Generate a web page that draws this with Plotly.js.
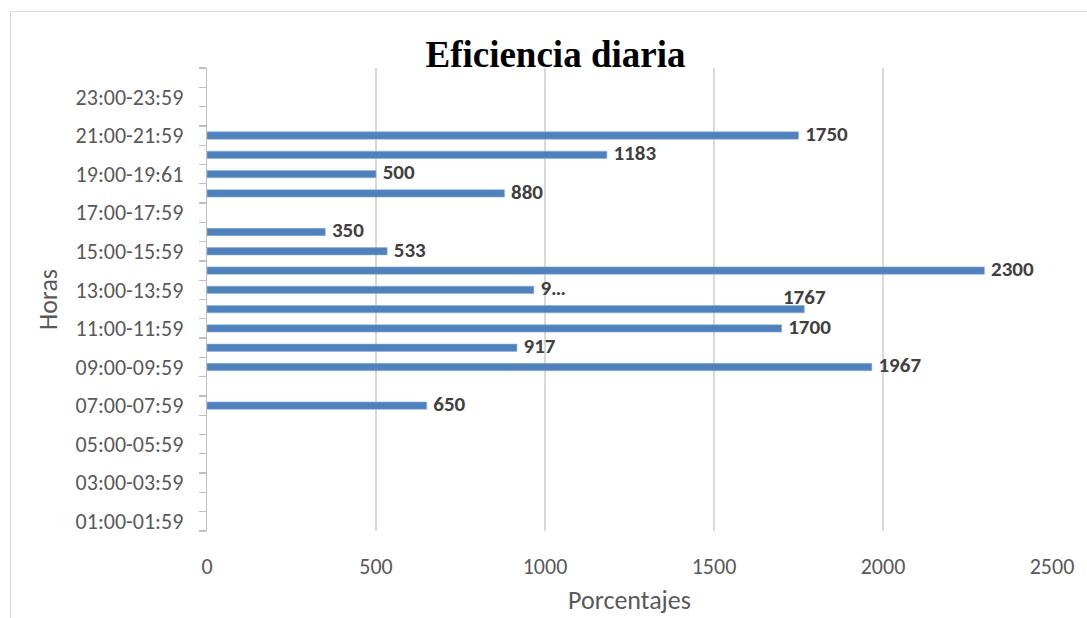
<!DOCTYPE html>
<html>
<head>
<meta charset="utf-8">
<script src="https://cdn.plot.ly/plotly-3.0.1.min.js"></script>
<style>
html,body{margin:0;padding:0;background:#fff;overflow:hidden;}
#frame{position:absolute;left:10px;top:11px;width:1100px;height:640px;border-left:1px solid #d9d9d9;border-top:1px solid #d9d9d9;box-sizing:border-box;}
#chart{position:absolute;left:0;top:0;width:1087px;height:618px;}
</style>
</head>
<body>
<div id="frame"></div>
<div id="chart"></div>
<script>
// Categories (bottom to top)
const horas = [
  "01:00-01:59","02:00-02:59","03:00-03:59","04:00-04:59","05:00-05:59","06:00-06:59",
  "07:00-07:59","08:00-08:59","09:00-09:59","10:00-10:59","11:00-11:59","12:00-12:59",
  "13:00-13:59","14:00-14:59","15:00-15:59","16:00-16:59","17:00-17:59","18:00-18:59",
  "19:00-19:61","20:00-20:59","21:00-21:59","22:00-22:59","23:00-23:59","00:00-00:59"
];
// Shown tick labels (every other category)
const tickLabels = [
  "01:00-01:59","","03:00-03:59","","05:00-05:59","",
  "07:00-07:59","","09:00-09:59","","11:00-11:59","",
  "13:00-13:59","","15:00-15:59","","17:00-17:59","",
  "19:00-19:61","","21:00-21:59","","23:00-23:59",""
];
// Values
const porcentajes = [
  null,null,null,null,null,null,
  650,null,1967,917,1700,1767,
  967,2300,533,350,null,880,
  500,1183,1750,null,null,null
];
// Data labels
const etiquetas = [
  "","","","","","",
  "650","","1967","917","1700","1767",
  "9…","2300","533","350","","880",
  "500","1183","1750","","",""
];
// Label placement (style only)
const labelPos = horas.map((h, i) => i === 11 ? "top center" : "middle right");
const labelPad = horas.map((h, i) => i === 11 ? 0 : 9);
const xTicks = [0,500,1000,1500,2000,2500];

const fontBase = "Carlito, Lato, 'Open Sans', sans-serif";

const bars = {
  type: "bar",
  orientation: "h",
  y: horas,
  x: porcentajes,
  marker: {color: "#4F81BD", line: {color: "#8DB0DA", width: 0.6}},
  width: 0.38,
  hoverinfo: "x+y"
};

const labels = {
  type: "scatter",
  mode: "markers+text",
  y: horas,
  x: porcentajes,
  text: etiquetas,
  textposition: labelPos,
  marker: {size: labelPad, color: "rgba(0,0,0,0)", line: {width: 0}},
  cliponaxis: false,
  textfont: {family: fontBase, size: 21, color: "#404040", weight: "bold"},
  hoverinfo: "skip"
};

const layout = {
  width: 1087,
  height: 618,
  margin: {l: 207, r: 35, t: 68, b: 87},
  paper_bgcolor: "rgba(0,0,0,0)",
  plot_bgcolor: "rgba(0,0,0,0)",
  showlegend: false,
  title: {
    text: "<b>Eficiencia diaria</b>",
    font: {family: "'Liberation Serif', 'Times New Roman', serif", size: 37, color: "#000"},
    x: 0.511, xref: "container", xanchor: "center",
    y: 0.912, yref: "container", yanchor: "middle"
  },
  xaxis: {
    range: [0, 2500],
    tickmode: "array",
    tickvals: xTicks,
    ticktext: xTicks.map(String),
    showgrid: true,
    gridcolor: "#d9d9d9",
    gridwidth: 1.3,
    zeroline: false,
    showline: false,
    ticks: "",
    ticklabelstandoff: 20,
    tickfont: {family: fontBase, size: 22, color: "#595959"},
    title: {text: "Porcentajes", font: {family: fontBase, size: 26, color: "#595959"}, standoff: 11}
  },
  yaxis: {
    type: "category",
    categoryorder: "array",
    categoryarray: horas,
    range: [-0.5, 23.5],
    tickmode: "array",
    tickvals: horas,
    ticktext: tickLabels,
    tickson: "boundaries",
    ticks: "outside",
    ticklen: 7,
    tickcolor: "#bfbfbf",
    tickwidth: 1.3,
    showline: true,
    linecolor: "#bfbfbf",
    linewidth: 1.3,
    showgrid: false,
    zeroline: false,
    ticklabelstandoff: 18,
    tickfont: {family: fontBase, size: 22, color: "#595959"},
    title: {text: "Horas", font: {family: fontBase, size: 26, color: "#595959"}, standoff: 10}
  }
};

Plotly.newPlot("chart", [bars, labels], layout, {displayModeBar: false, staticPlot: true});
</script>
</body>
</html>
